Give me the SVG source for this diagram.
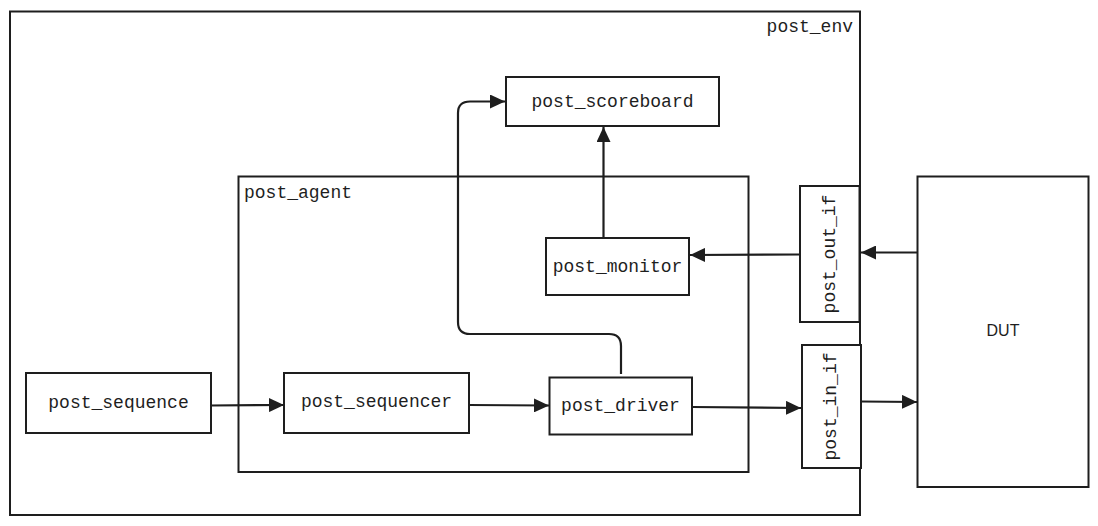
<svg xmlns="http://www.w3.org/2000/svg" width="1098" height="526" viewBox="0 0 1098 526">
<defs>
<marker id="ah" markerUnits="userSpaceOnUse" markerWidth="16" markerHeight="14" refX="15" refY="7" orient="auto">
<path d="M0,0 L15,7 L0,14 z" fill="#1e1e1e"/>
</marker>
<style>
.box{fill:#ffffff;stroke:#1e1e1e;stroke-width:2}
.frame{fill:none;stroke:#1e1e1e;stroke-width:2}
.lbl{font-family:"Liberation Mono","DejaVu Sans Mono",monospace;font-size:18px;fill:#1e1e1e}
.c{text-anchor:middle;dominant-baseline:central}
.dut{font-family:"Liberation Sans",Arial,sans-serif;font-size:16px;fill:#1e1e1e;text-anchor:middle;dominant-baseline:central}
.conn{fill:none;stroke:#1e1e1e;stroke-width:2.2;marker-end:url(#ah)}
</style>
</defs>
<rect width="1098" height="526" fill="#ffffff"/>
<g id="post_env">
<rect class="frame" x="10" y="11.5" width="850" height="503.5"/>
<text class="lbl" x="853" y="27" text-anchor="end" dominant-baseline="central">post_env</text>
</g>
<g id="post_agent">
<rect class="frame" x="238.5" y="176.5" width="510" height="295.5"/>
<text class="lbl" x="244" y="193" dominant-baseline="central">post_agent</text>
</g>
<g id="post_scoreboard">
<rect class="box" x="506" y="77" width="213" height="49"/>
<text class="lbl c" x="612.5" y="101.5">post_scoreboard</text>
</g>
<g id="post_monitor">
<rect class="box" x="546" y="238" width="143" height="57"/>
<text class="lbl c" x="617.5" y="266.5">post_monitor</text>
</g>
<g id="post_sequence">
<rect class="box" x="26" y="373" width="185" height="60"/>
<text class="lbl c" x="118.5" y="403">post_sequence</text>
</g>
<g id="post_sequencer">
<rect class="box" x="284" y="373" width="185" height="60"/>
<text class="lbl c" x="376.5" y="402">post_sequencer</text>
</g>
<g id="post_driver">
<rect class="box" x="549.5" y="377.5" width="142.5" height="57"/>
<text class="lbl c" x="620.5" y="406">post_driver</text>
</g>
<g id="post_out_if">
<rect class="box" x="800" y="186" width="59.5" height="136"/>
<text class="lbl c" transform="translate(830 254) rotate(-90)" x="0" y="0">post_out_if</text>
</g>
<g id="post_in_if">
<rect class="box" x="802" y="345" width="59" height="123"/>
<text class="lbl c" transform="translate(831 406.5) rotate(-90)" x="0" y="0">post_in_if</text>
</g>
<g id="DUT">
<rect class="box" x="917.5" y="176.5" width="171" height="310.5"/>
<text class="dut" x="1003" y="330">DUT</text>
</g>
<g id="connectors">
<path class="conn" d="M210,405.5 L284,405"/>
<path class="conn" d="M469,405 L549,405.5"/>
<path class="conn" d="M692,407 L801,408"/>
<path class="conn" d="M861,401.5 L917,402"/>
<path class="conn" d="M917,252.5 L861,252.5"/>
<path class="conn" d="M800,254.5 L690,255"/>
<path class="conn" d="M603.5,238 L603.5,127"/>
<path class="conn" d="M621,374 L621,346 Q621,334 609,334 L470,334 Q458,334 458,322 L458,113 Q458,101.5 470,101.5 L505,101.5"/>
</g>
</svg>
